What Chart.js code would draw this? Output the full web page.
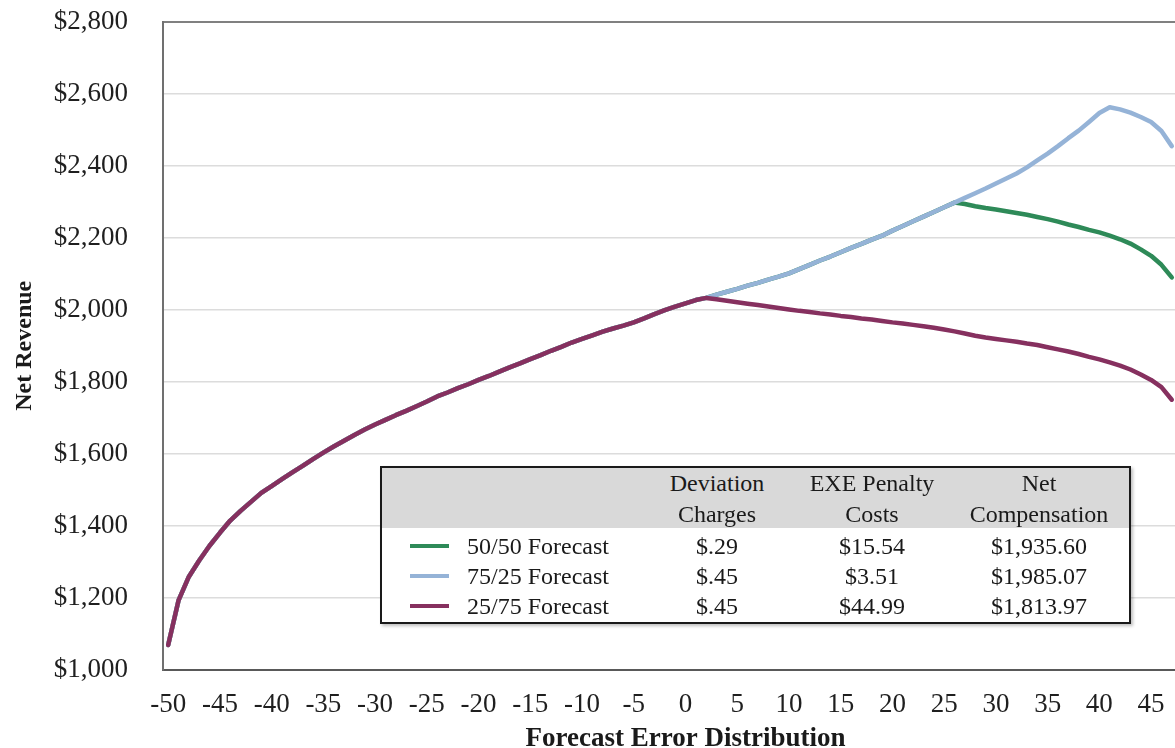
<!DOCTYPE html>
<html>
<head>
<meta charset="utf-8">
<script src="https://cdn.jsdelivr.net/npm/chart.js@4.4.1/dist/chart.umd.min.js"></script>
<style>
html,body{margin:0;padding:0;background:#fff;overflow:hidden;width:1175px;height:748px;}
#wrap{position:absolute;left:0;top:0;width:1230px;height:760px;}
#legendBox{position:absolute;left:380px;top:466px;width:751px;height:158px;border:2px solid #1a1a1a;box-sizing:border-box;background:#fff;font-family:"Liberation Serif","Times New Roman",serif;font-size:24px;color:#1a1a1a;box-shadow:2px 2px 3px rgba(0,0,0,0.25);}
#legendHead{position:absolute;left:0;top:0;right:0;height:60px;background:#d9d9d9;}
.t{position:absolute;line-height:30px;white-space:nowrap;}
.c{transform:translateX(-50%);text-align:center;}
.sw{position:absolute;height:4px;width:39px;left:28px;}
</style>
</head>
<body>
<div id="wrap"><canvas id="chart"></canvas></div>
<div id="legendBox"><div id="legendHead"></div></div>
<script>
// ---- data ----
const categories = [-50,-49,-48,-47,-46,-45,-44,-43,-42,-41,-40,-39,-38,-37,-36,-35,-34,-33,-32,-31,-30,-29,-28,-27,-26,-25,-24,-23,-22,-21,-20,-19,-18,-17,-16,-15,-14,-13,-12,-11,-10,-9,-8,-7,-6,-5,-4,-3,-2,-1,0,1,2,3,4,5,6,7,8,9,10,11,12,13,14,15,16,17,18,19,20,21,22,23,24,25,26,27,28,29,30,31,32,33,34,35,36,37,38,39,40,41,42,43,44,45,46,47,48,49,50];
const xTickLabels = ["-50","-45","-40","-35","-30","-25","-20","-15","-10","-5","0","5","10","15","20","25","30","35","40","45","50"];
const yTickValues = [1000,1200,1400,1600,1800,2000,2200,2400,2600,2800];

const seriesNames = ["50/50 Forecast","75/25 Forecast","25/75 Forecast"];
const seriesColors = ["#2e8a58","#95b3d7","#86305f"];

const forecast5050 = [1068,1192,1258,1303,1344,1380,1414,1441,1466,1491,1510,1529,1548,1566,1585,1603,1620,1636,1652,1667,1681,1694,1707,1719,1732,1745,1759,1770,1782,1793,1805,1816,1828,1840,1851,1863,1874,1886,1897,1909,1919,1929,1939,1948,1956,1965,1976,1988,1999,2009,2018,2027,2033,
  2042,2050,2058,2067,2075,2084,2092,2101,2113,2125,2137,2148,2160,2172,2183,2195,2206,2220,2233,2246,2259,2272,2285,2298,
  2294,2288,2283,2279,2274,2269,2264,2258,2252,2245,2237,2230,2222,2215,2206,2196,2184,2168,2150,2125,2090,null,null,null];

const forecast7525 = [1068,1192,1258,1303,1344,1380,1414,1441,1466,1491,1510,1529,1548,1566,1585,1603,1620,1636,1652,1667,1681,1694,1707,1719,1732,1745,1759,1770,1782,1793,1805,1816,1828,1840,1851,1863,1874,1886,1897,1909,1919,1929,1939,1948,1956,1965,1976,1988,1999,2009,2018,2027,2033,
  2042,2050,2058,2067,2075,2084,2092,2101,2113,2125,2137,2148,2160,2172,2183,2195,2206,2220,2233,2246,2259,2272,2285,2298,
  2311,2324,2337,2351,2365,2379,2396,2415,2434,2455,2477,2498,2522,2547,2563,2557,2548,2536,2522,2497,2455,null,null,null];

const forecast2575 = [1068,1192,1258,1303,1344,1380,1414,1441,1466,1491,1510,1529,1548,1566,1585,1603,1620,1636,1652,1667,1681,1694,1707,1719,1732,1745,1759,1770,1782,1793,1805,1816,1828,1840,1851,1863,1874,1886,1897,1909,1919,1929,1939,1948,1956,1965,1976,1988,1999,2009,2018,2027,2033,
  2029,2025,2021,2017,2013,2009,2005,2001,1997,1994,1990,1987,1983,1980,1976,1973,1969,1965,1962,1958,1954,1950,1945,1940,
  1934,1928,1923,1919,1915,1911,1906,1902,1896,1890,1884,1877,1869,1862,1854,1845,1834,1820,1805,1785,1750,null,null,null];

const tableHeaders = [["Deviation","Charges"],["EXE Penalty","Costs"],["Net","Compensation"]];
const deviationCharges = ["$.29","$.45","$.45"];
const penaltyCosts = ["$15.54","$3.51","$44.99"];
const netCompensation = ["$1,935.60","$1,985.07","$1,813.97"];

// ---- legend table (HTML) ----
const box = document.getElementById('legendBox');
const colCenters = [335, 490, 657];
const headTops = [0, 31];
const rowTops = [63, 93, 123];
function addText(txt, left, top, centered){
  const d = document.createElement('div');
  d.className = 't' + (centered ? ' c' : '');
  d.style.left = left + 'px';
  d.style.top = top + 'px';
  d.textContent = txt;
  box.appendChild(d);
}
tableHeaders.forEach((h, ci) => h.forEach((line, li) => addText(line, colCenters[ci], headTops[li], true)));
const cols = [deviationCharges, penaltyCosts, netCompensation];
seriesNames.forEach((name, ri) => {
  const sw = document.createElement('div');
  sw.className = 'sw';
  sw.style.top = (rowTops[ri] + 13) + 'px';
  sw.style.background = seriesColors[ri];
  box.appendChild(sw);
  addText(name, 85, rowTops[ri], false);
  cols.forEach((col, ci) => addText(col[ri], colCenters[ci], rowTops[ri], true));
});

// ---- chart ----
Chart.defaults.font.family = "'Liberation Serif','Times New Roman',serif";
Chart.defaults.color = '#1f1f1f';

const ctx = document.getElementById('chart').getContext('2d');
new Chart(ctx, {
  type: 'line',
  data: {
    labels: categories.map(String),
    datasets: [
      {label: seriesNames[0], data: forecast5050, borderColor: seriesColors[0], order: 3},
      {label: seriesNames[1], data: forecast7525, borderColor: seriesColors[1], order: 2},
      {label: seriesNames[2], data: forecast2575, borderColor: seriesColors[2], order: 1}
    ].map(d => Object.assign(d, {borderWidth: 4.5, pointRadius: 0, tension: 0, fill: false, borderJoinStyle: 'round', borderCapStyle: 'round'}))
  },
  options: {
    responsive: true,
    maintainAspectRatio: false,
    devicePixelRatio: 1,
    animation: false,
    layout: {padding: {top: 22, right: 22, left: 0, bottom: 0}},
    plugins: {legend: {display: false}, tooltip: {enabled: false}},
    scales: {
      x: {
        type: 'category',
        offset: true,
        grid: {display: false, drawTicks: false},
        border: {display: true, color: '#595959', width: 2},
        ticks: {
          autoSkip: false, maxRotation: 0, padding: 19,
          font: {size: 27},
          callback: function(v, i){ const l = this.getLabelForValue(v); return xTickLabels.includes(l) ? l : ''; }
        },
        title: {display: true, text: 'Forecast Error Distribution', font: {size: 27, weight: 'bold'}, padding: 5, color: '#1a1a1a'},
        afterFit: s => { s.height = 90.5; s.paddingLeft = 0; s.paddingRight = 0; }
      },
      y: {
        min: yTickValues[0], max: yTickValues[yTickValues.length - 1],
        afterBuildTicks: s => { s.ticks = yTickValues.map(v => ({value: v})); },
        grid: {
          drawTicks: false,
          color: c => (c.tick && c.tick.value === 2800) ? '#808080' : '#dcdcdc',
          lineWidth: c => (c.tick && c.tick.value === 2800) ? 2 : 1.5
        },
        border: {display: true, color: '#707070', width: 2},
        ticks: {
          padding: 35, font: {size: 27},
          callback: v => '$' + Number(v).toLocaleString('en-US')
        },
        title: {display: true, text: 'Net Revenue', font: {size: 24, weight: 'bold'}, padding: 10, color: '#1a1a1a'},
        afterFit: s => { s.width = 163; s.paddingTop = 0; s.paddingBottom = 0; }
      }
    }
  }
});
</script>
</body>
</html>
